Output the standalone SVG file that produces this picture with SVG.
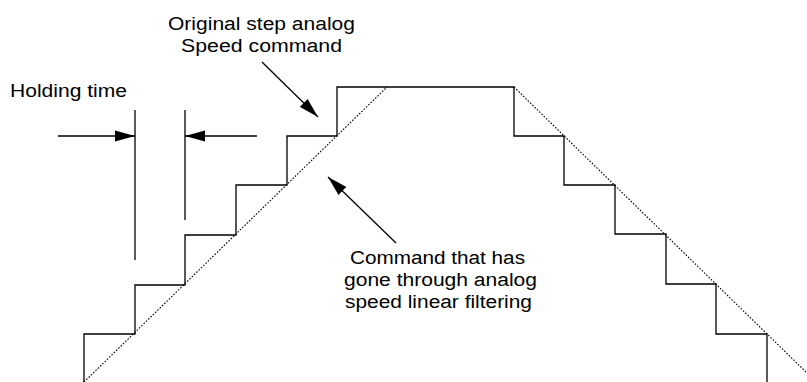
<svg xmlns="http://www.w3.org/2000/svg" width="807" height="382" viewBox="0 0 807 382">
  <style>
    .txt { font-family: "Liberation Sans", Arial, sans-serif; font-size: 18px; fill: #000; }
    .solid { fill: none; stroke: #000; stroke-width: 1.3; }
    .dot { fill: none; stroke: #000; stroke-width: 1.1; stroke-dasharray: 1.6 1.6; }
    .arrow { fill: none; stroke: #000; stroke-width: 1.3; marker-end: url(#ah); }
  </style>
  <defs>
    <marker id="ah" markerUnits="userSpaceOnUse" markerWidth="20" markerHeight="12" viewBox="0 0 18 10" refX="18" refY="5" orient="auto">
      <path d="M0,0 L18,5 L0,10 Z" fill="#000"/>
    </marker>
  </defs>
  <rect width="807" height="382" fill="#fff"/>

  <g id="staircase">
    <path class="solid" d="M84,382 V334 H135 V285 H185 V235 H236 V185 H287 V136 H337 V87 H514 V136 H564 V185 H615 V234 H666 V284 H716 V334 H767 V382"/>
  </g>
  <g id="filtered">
    <path class="dot" d="M84,382 L387,87"/>
    <path class="dot" d="M514,87 L807,373"/>
  </g>

  <g id="holding-time">
    <line class="solid" x1="135" y1="110" x2="135" y2="260"/>
    <line class="solid" x1="185" y1="110" x2="185" y2="220"/>
    <text class="txt" x="10" y="97" textLength="117" lengthAdjust="spacingAndGlyphs">Holding time</text>
  </g>

  <g id="label-original">
    <text class="txt" x="168" y="30" textLength="187" lengthAdjust="spacingAndGlyphs">Original step analog</text>
    <text class="txt" x="181" y="52" textLength="161" lengthAdjust="spacingAndGlyphs">Speed command</text>
  </g>

  <g id="label-filtered">
    <text class="txt" x="350" y="264" textLength="175" lengthAdjust="spacingAndGlyphs">Command that has</text>
    <text class="txt" x="344" y="286" textLength="193" lengthAdjust="spacingAndGlyphs">gone through analog</text>
    <text class="txt" x="345" y="308" textLength="187" lengthAdjust="spacingAndGlyphs">speed linear filtering</text>
  </g>

  <g id="connectors">
    <line class="arrow" x1="58" y1="136" x2="135" y2="136"/>
    <line class="arrow" x1="257" y1="136" x2="185" y2="136"/>
    <line class="arrow" x1="262" y1="62" x2="318" y2="117"/>
    <line class="arrow" x1="396" y1="243" x2="328" y2="177"/>
  </g>
</svg>
